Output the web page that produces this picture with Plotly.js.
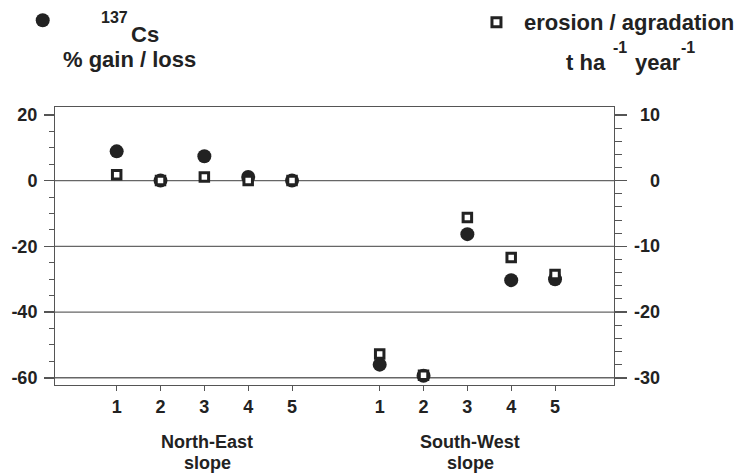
<!DOCTYPE html>
<html>
<head>
<meta charset="utf-8">
<script src="https://cdn.plot.ly/plotly-3.0.1.min.js"></script>
<style>
  html, body { margin: 0; padding: 0; background: #fff; }
  #chart { width: 745px; height: 476px; }
</style>
</head>
<body>
<div id="chart"></div>
<script>
// ---------------- data ----------------
const slopeNames = ['North-East', 'South-West'];
const slopeSuffix = 'slope';
const siteLabels = ['1', '2', '3', '4', '5'];
// 137Cs % gain / loss (left axis), per slope, sites 1..5
const csNorthEast = [8.9, 0, 7.4, 1.1, 0];
const csSouthWest = [-56, -59.4, -16.3, -30.3, -30.0];
// erosion / agradation, t ha-1 year-1 (right axis)
const eroNorthEast = [0.9, 0, 0.55, 0, 0];
const eroSouthWest = [-26.4, -29.6, -5.6, -11.7, -14.3];
const leftTicks = [20, 0, -20, -40, -60];
const rightTicks = [10, 0, -10, -20, -30];
const gridValues = [0, -20, -40, -60];

// -------------- positions --------------
const GAP = 1; // one empty slot between slope groups
const xPos = [];
const xText = [];
[0, 1].forEach(g => siteLabels.forEach((s, i) => {
  xPos.push(g * (siteLabels.length + GAP) + i + 1);
  xText.push(s);
}));
const csAll = csNorthEast.concat(csSouthWest);
const eroAll = eroNorthEast.concat(eroSouthWest);

const FONT = 'Liberation Sans, Arial, Helvetica, sans-serif';
const INK = '#222222';
const LINE = '#555555';

// plot area in pixels
const L = 55, R = 614.3, T = 107.3, B = 385;
const W = R - L, H = B - T;
const px = x => (x - L) / W;
const py = y => (B - y) / H;

function ann(text, x, y, size, xanchor) {
  return {
    text: text, xref: 'paper', yref: 'paper', x: px(x), y: py(y),
    xanchor: xanchor || 'center', yanchor: 'middle', showarrow: false,
    font: {family: FONT, size: size, color: INK, weight: 'bold'}
  };
}

const annotations = [
  ann('137', 114.5, 18, 16),
  ann('Cs', 145, 35, 22),
  ann('% gain / loss', 130, 60, 22),
  ann('erosion / agradation', 629, 22.4, 22),
  ann('t ha', 608, 63, 22, 'right'),
  ann('-1', 611, 48, 16, 'left'),
  ann('year', 633, 63, 22, 'left'),
  ann('-1', 679, 48, 16, 'left')
];
// right-axis labels (right aligned as in the original)
rightTicks.forEach(v => annotations.push({
  text: String(v), xref: 'paper', yref: 'y2', x: px(662), y: v,
  xanchor: 'right', yanchor: 'middle', showarrow: false,
  font: {family: FONT, size: 18, color: INK, weight: 'bold'}
}));
// group labels below the x axis
slopeNames.forEach((name, g) => {
  const mid = g * (siteLabels.length + GAP) + (siteLabels.length + 1) / 2;
  [[name, 441.7], [slopeSuffix, 463.3]].forEach(([t, yy]) => annotations.push({
    text: t, xref: 'x', yref: 'paper', x: mid, y: py(yy), xshift: 3,
    xanchor: 'center', yanchor: 'middle', showarrow: false,
    font: {family: FONT, size: 18, color: INK, weight: 'bold'}
  }));
});

const shapes = gridValues.map(v => ({
  type: 'line', xref: 'paper', yref: 'y', x0: 0, x1: 1, y0: v, y1: v,
  line: {color: '#666666', width: 1.3}, layer: 'below'
}));
// legend symbols
shapes.push({type: 'circle', xref: 'paper', yref: 'paper',
  x0: px(42.7 - 7), x1: px(42.7 + 7), y0: py(20.7 + 7), y1: py(20.7 - 7),
  fillcolor: INK, line: {color: INK, width: 0}});
shapes.push({type: 'rect', xref: 'paper', yref: 'paper',
  x0: px(496.7 - 4.5), x1: px(496.7 + 4.5), y0: py(22.7 + 4.5), y1: py(22.7 - 4.5),
  fillcolor: '#ffffff', line: {color: INK, width: 3}});

const traces = [
  {
    type: 'scatter', mode: 'markers', x: xPos, y: csAll, yaxis: 'y',
    marker: {symbol: 'circle', size: 14, color: INK, line: {width: 0}},
    hoverinfo: 'skip'
  },
  {
    type: 'scatter', mode: 'markers', x: xPos, y: eroAll, yaxis: 'y2',
    marker: {symbol: 'square', size: 8.5, color: '#ffffff', line: {color: INK, width: 3}},
    hoverinfo: 'skip'
  }
];

const tickFont = {family: FONT, size: 18, color: INK, weight: 'bold'};

const layout = {
  width: 745, height: 476,
  margin: {l: L, r: 745 - R, t: T, b: 476 - B, pad: 0},
  paper_bgcolor: '#ffffff', plot_bgcolor: '#ffffff',
  showlegend: false,
  xaxis: {
    range: [-0.407, 12.345], tickmode: 'array', tickvals: xPos, ticktext: xText,
    ticks: 'outside', ticklen: 5, tickwidth: 1, tickcolor: LINE,
    showline: true, linecolor: LINE, linewidth: 1, mirror: true,
    showgrid: false, zeroline: false, tickfont: tickFont
  },
  yaxis: {
    range: [-62.2, 22.4], tickmode: 'array', tickvals: leftTicks,
    ticktext: leftTicks.map(v => String(v)), ticklabelstandoff: 3,
    ticks: 'outside', ticklen: 10, tickwidth: 1.5, tickcolor: LINE,
    minor: {dtick: 5, tick0: 0, ticks: 'outside', ticklen: 5, tickwidth: 1, tickcolor: LINE, showgrid: false},
    showline: true, linecolor: LINE, linewidth: 1,
    showgrid: false, zeroline: false, tickfont: tickFont
  },
  yaxis2: {
    overlaying: 'y', side: 'right', anchor: 'x',
    range: [-31.1, 11.2], tickmode: 'array', tickvals: rightTicks,
    ticks: 'outside', ticklen: 12, tickwidth: 1.5, tickcolor: LINE,
    minor: {dtick: 2, tick0: 0, ticks: 'outside', ticklen: 7, tickwidth: 1, tickcolor: LINE, showgrid: false},
    showline: true, linecolor: LINE, linewidth: 1,
    showticklabels: false, showgrid: false, zeroline: false
  },
  annotations: annotations,
  shapes: shapes
};

Plotly.newPlot('chart', traces, layout, {displayModeBar: false, staticPlot: true});
</script>
</body>
</html>
